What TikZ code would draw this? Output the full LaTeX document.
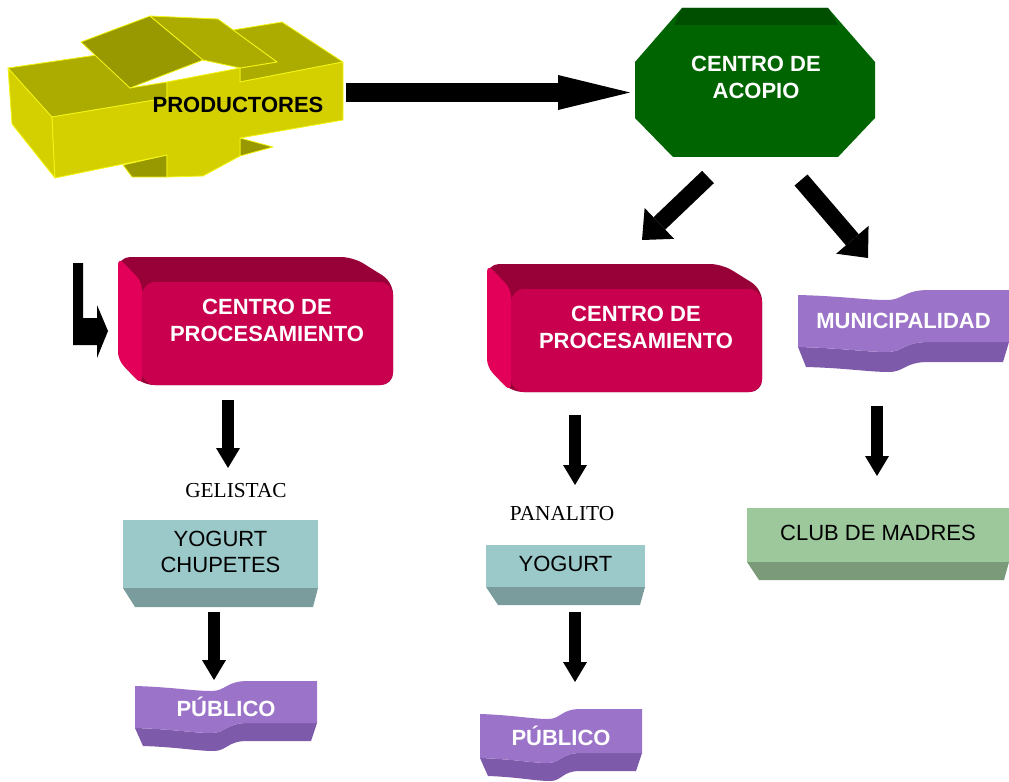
\documentclass[tikz,border=0pt]{standalone}
\usepackage{fontspec}
\setmainfont{Liberation Sans}
\newfontfamily\timesfont{Liberation Serif}
\usepackage{xcolor}
\usetikzlibrary{arrows.meta}

\definecolor{prodfront}{RGB}{212,208,0}
\definecolor{prodtop}{RGB}{172,172,0}
\definecolor{proddark}{RGB}{152,152,0}
\definecolor{prodedge}{RGB}{245,245,20}
\definecolor{acopiogreen}{RGB}{0,100,0}
\definecolor{acopiotop}{RGB}{0,78,0}
\definecolor{procfront}{RGB}{200,0,78}
\definecolor{proctop}{RGB}{152,0,56}
\definecolor{procside}{RGB}{226,0,88}
\definecolor{lila}{RGB}{155,115,200}
\definecolor{liladark}{RGB}{125,90,170}
\definecolor{yogfront}{RGB}{155,200,200}
\definecolor{yogdark}{RGB}{122,156,156}
\definecolor{clubfront}{RGB}{156,200,156}
\definecolor{clubdark}{RGB}{122,154,122}

\tikzset{
  boldlabel/.style={font=\fontsize{16.5}{20.25}\selectfont\bfseries, align=center, text=white},
  plainlabel/.style={font=\fontsize{16.5}{19}\selectfont, align=center},
  brandlabel/.style={font=\timesfont\fontsize{16}{19}\selectfont},
  bigarrow/.style={line width=14.25pt, -{Triangle[length=54pt,width=26.25pt,line width=0pt]}},
  diagarrow/.style={line width=12.75pt, -{Triangle[length=18pt,width=32pt,line width=0pt]}},
  downarrow/.style={line width=9pt, -{Triangle[length=15pt,width=18pt,line width=0pt]}}
}

% wave edge of the banners: start x, start y, width, rise
\newcommand{\wavefwd}[4]{({#1},{#2}) .. controls ({#1+0.2*(#3)},{#2+1}) and ({#1+0.32*(#3)},{#2+5}) .. ({#1+0.42*(#3)},{#2+5}) .. controls ({#1+0.5*(#3)},{#2+5}) and ({#1+0.5*(#3)},{#2+(#4)}) .. ({#1+0.62*(#3)},{#2+(#4)}) -- ({#1+(#3)},{#2+(#4)})}
\newcommand{\waveback}[4]{-- ({#1+0.62*(#3)},{#2+(#4)}) .. controls ({#1+0.5*(#3)},{#2+(#4)}) and ({#1+0.5*(#3)},{#2+5}) .. ({#1+0.42*(#3)},{#2+5}) .. controls ({#1+0.32*(#3)},{#2+5}) and ({#1+0.2*(#3)},{#2+1}) .. ({#1},{#2})}
\newcommand{\banner}[7]{%
  \fill[liladark] \wavefwd{#2}{#3+#5}{#4}{-5} -- ({#2+#4-6},{#3+#5-5+#6}) \waveback{#2+8}{#3+#5+#6}{#4-14}{-5} -- cycle;
  \fill[lila] \wavefwd{#2}{#3}{#4}{-5} -- ({#2+#4},{#3+#5-5}) \waveback{#2}{#3+#5}{#4}{-5} -- cycle;
  \node[boldlabel] (#1) at ({#2+(#4)/2},{#3+(#5)/2}) {#7};}
\newcommand{\flatbox}[9]{%
  \fill[#8] (#2,#5) -- (#4,#5) -- ({#4-5},{#5+#6}) -- ({#2+12},{#5+#6}) -- cycle;
  \fill[#7] (#2,#3) rectangle (#4,#5);
  \node[plainlabel] (#1) at ({(#2+#4)/2},{(#3+#5)/2-2}) {#9};}
\newcommand{\procbox}[3]{%
  \begin{scope}[shift={(#1,#2)}]
  \fill[proctop, rounded corners=9pt] (118,257) -- (353,257) -- (393,282) -- (393,385) -- (142,385) -- (118,360) -- cycle;
  \fill[procside, rounded corners=6pt] (118,257) -- (142,282) -- (142,385) -- (118,360) -- cycle;
  \fill[procfront, rounded corners=10pt] (142,282) rectangle (393,385);
  \node[boldlabel] (#3) at (267,320) {CENTRO DE\\PROCESAMIENTO};
  \end{scope}}

\begin{document}
\begin{tikzpicture}[x=0.75pt,y=-0.75pt]
\useasboundingbox (0,0) rectangle (1009,781);

% productores
\begin{scope}[draw=prodedge, line width=0.6pt, line join=round]
\filldraw[fill=prodfront] (8,68) -- (52,117) -- (55,178) -- (12,124) -- cycle;
\filldraw[fill=prodtop] (8,68) -- (97,55) -- (130,88) -- (167,82) -- (167,98) -- (52,117) -- cycle;
\filldraw[fill=prodtop] (233,30) -- (282,22) -- (343,62) -- (240,82) -- (240,68) -- (277,62) -- cycle;
\filldraw[fill=proddark] (81,42) -- (150,16) -- (203,60) -- (130,88) -- cycle;
\filldraw[fill=prodtop] (150,16) -- (218,19) -- (277,62) -- (240,68) -- (203,60) -- cycle;
\filldraw[fill=proddark] (123,165) -- (167,155) -- (167,177) -- (132,177) -- cycle;
\filldraw[fill=proddark] (240,138) -- (273,147) -- (240,156) -- cycle;
\filldraw[fill=prodfront] (52,117) -- (167,98) -- (167,82) -- (240,68) -- (240,82) -- (343,62) -- (343,120) -- (240,138) -- (240,156) -- (203,176) -- (167,177) -- (167,155) -- (55,178) -- cycle;
\end{scope}
\node[boldlabel, text=black] (prod) at (238,105) {PRODUCTORES};

% centro de acopio
\fill[acopiogreen] (682,8) -- (828,8) -- (875,62) -- (875,118) -- (838,157) -- (673,157) -- (635,118) -- (635,62) -- cycle;
\fill[acopiotop] (682,8) -- (828,8) -- (838,25) -- (674,25) -- cycle;
\node[boldlabel] (acopio) at (756,77) {CENTRO DE\\ACOPIO};

% procesamiento
\procbox{0}{0}{proc1}
\procbox{369}{7}{proc2}

% destinos
\banner{muni}{798}{295}{211}{52}{20}{MUNICIPALIDAD}
\node[brandlabel] (gel) at (236,491) {GELISTAC};
\node[brandlabel] (pan) at (562,514) {PANALITO};
\flatbox{yog1}{123}{520}{318}{588}{19}{yogfront}{yogdark}{YOGURT\\CHUPETES}
\flatbox{yog2}{486}{545}{645}{587}{18}{yogfront}{yogdark}{YOGURT}
\flatbox{club}{747}{508}{1009}{562}{18}{clubfront}{clubdark}{CLUB DE MADRES}
\banner{pub1}{135}{686}{182}{42}{18}{PÚBLICO}
\banner{pub2}{480}{714}{162}{44}{18}{PÚBLICO}

% flechas
\coordinate (pa) at (346,92.5);
\coordinate (pb) at (630,92.5);
\draw[bigarrow] (pa) -- (pb);
\coordinate (la) at (708,177);
\coordinate (lb) at (642,240);
\draw[diagarrow] (la) -- (lb);
\coordinate (ra) at (801,180);
\coordinate (rb) at (868,258);
\draw[diagarrow] (ra) -- (rb);
\fill (73,263) -- (83,263) -- (83,318) -- (97,318) -- (97,305) -- (108,331) -- (97,358) -- (97,345) -- (73,345) -- cycle;
\coordinate (d1a) at (228,400);
\coordinate (d1b) at (228,468);
\draw[downarrow] (d1a) -- (d1b);
\coordinate (d2a) at (214,612);
\coordinate (d2b) at (214,680);
\draw[downarrow] (d2a) -- (d2b);
\coordinate (d3a) at (575,415);
\coordinate (d3b) at (575,485);
\draw[downarrow] (d3a) -- (d3b);
\coordinate (d4a) at (575,612);
\coordinate (d4b) at (575,682);
\draw[downarrow] (d4a) -- (d4b);
\coordinate (d5a) at (877,406);
\coordinate (d5b) at (877,476);
\draw[downarrow] (d5a) -- (d5b);
\end{tikzpicture}
\end{document}
